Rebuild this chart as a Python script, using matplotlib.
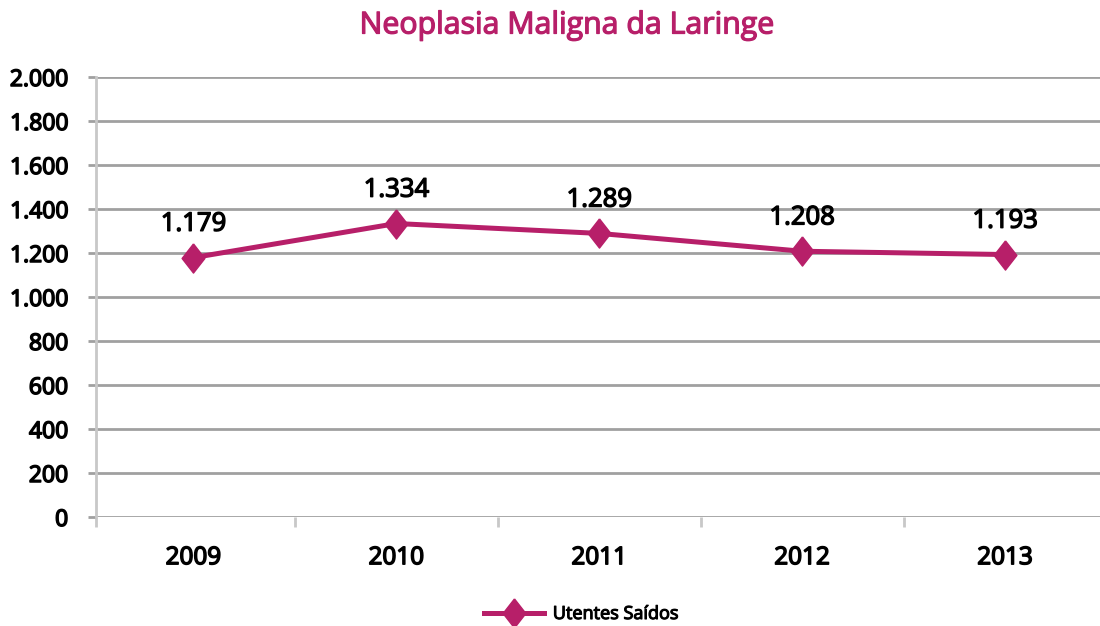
import matplotlib.pyplot as plt
import matplotlib.patheffects as pe
from matplotlib.ticker import FuncFormatter

plt.rcParams["font.family"] = ["Open Sans", "DejaVu Sans"]

COLOR = "#B71F69"

years = ["2009", "2010", "2011", "2012", "2013"]
utentes = [1179, 1334, 1289, 1208, 1193]
yticks = [0, 200, 400, 600, 800, 1000, 1200, 1400, 1600, 1800, 2000]


def semibold(color="black", w=0.9):
    # no semibold face installed, so thicken the regular one a little
    return [pe.withStroke(linewidth=w, foreground=color)]


W, H = 1100, 626
fig = plt.figure(figsize=(W / 100, H / 100), dpi=100)
ax = fig.add_axes([96 / W, (H - 517) / H, (W - 96) / W, 440 / H])

diamond = [(0, 1), (0.78, 0), (0, -1), (-0.78, 0), (0, 1)]

x = list(range(len(years)))
ax.plot(x, utentes, color=COLOR, lw=3.6, marker=diamond, markersize=21,
        label="Utentes Saídos", zorder=3, clip_on=False)

for xi, v in zip(x, utentes):
    label = f"{v:,}".replace(",", ".")
    ax.annotate(label, (xi, v), xytext=(0, 24), textcoords="offset points",
                ha="center", va="center", fontsize=18.5, color="black",
                path_effects=semibold(w=1.0))

xmin, xmax = -0.48, (W - 193) / 203
ax.set_yticks(yticks)
ax.yaxis.set_major_formatter(FuncFormatter(lambda v, p: f"{int(v):,}".replace(",", ".")))
ax.set_xticks(x)
ax.set_xticklabels(years)
ax.set_xticks([xmin] + [i + 0.5 for i in range(len(years) - 1)], minor=True)
# limits after the ticks, otherwise set_xticks widens them
ax.set_ylim(0, 2000)
ax.set_xlim(xmin, xmax)

ax.grid(axis="y", color="#A0A0A0", lw=2)
ax.set_axisbelow(True)
for s in ["top", "right", "bottom"]:
    ax.spines[s].set_visible(False)
ax.spines["left"].set_color("#C8C8C8")
ax.spines["left"].set_linewidth(2)

ax.tick_params(axis="y", length=6, width=2, color="#A0A0A0", pad=14,
               labelsize=16.5)
ax.tick_params(axis="x", which="major", length=0, pad=21, labelsize=17.5)
ax.tick_params(axis="x", which="minor", length=7, width=2, color="#C8C8C8")
for lbl in ax.get_yticklabels() + ax.get_xticklabels():
    lbl.set_path_effects(semibold(w=1.1))

fig.text(567 / W, 1 - 26 / H, "Neoplasia Maligna da Laringe", ha="center",
         va="center", fontsize=21.8, color=COLOR, path_effects=semibold(COLOR))

leg = fig.legend(loc="center", bbox_to_anchor=(581 / W, 1 - 614 / H),
                 frameon=False, fontsize=13, handlelength=3.3,
                 markerscale=1.0, handletextpad=0.5)
for t in leg.get_texts():
    t.set_path_effects(semibold(w=0.8))

fig.savefig("out.png", dpi=100)
